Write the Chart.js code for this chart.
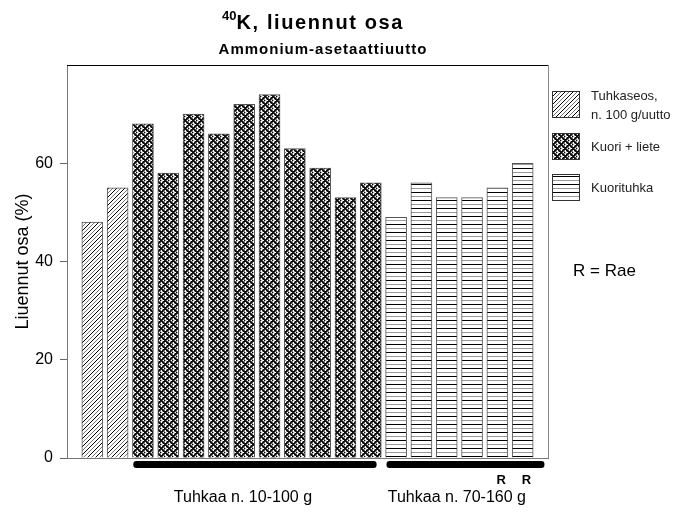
<!DOCTYPE html>
<html>
<head>
<meta charset="utf-8">
<script src="https://cdn.jsdelivr.net/npm/chart.js@4.4.1/dist/chart.umd.min.js"></script>
<style>
  body { margin: 0; background: #fff; }
  #wrap { position: relative; width: 683px; height: 512px; }
  #chart { position: absolute; left: 0; top: 0; }
  .ttl { position: absolute; left: 0; text-align: center; font-family: 'Liberation Sans', Arial, sans-serif; font-weight: bold; color: #000; white-space: nowrap; }
  #title { top: 12px; width: 626px; font-size: 20px; line-height: 20px; letter-spacing: 1.6px; }
  #title sup { font-size: 13px; position: relative; top: -9px; vertical-align: baseline; letter-spacing: 0; }
  #subtitle { top: 41px; width: 646px; font-size: 15px; line-height: 15px; letter-spacing: 1px; }
</style>
</head>
<body>
<div id="wrap">
  <canvas id="chart" width="683" height="512"></canvas>
  <div class="ttl" id="title"><sup>40</sup>K, liuennut osa</div>
  <div class="ttl" id="subtitle">Ammonium-asetaattiuutto</div>
</div>
<script>
'use strict'

// values, bars numbered 1..18 from the left
const tuhkaseos = [48, 55]
const kuoriLiete = [68, 58, 70, 66, 72, 74, 63, 59, 53, 56]
const kuorituhka = [49, 56, 53, 53, 55, 60]
const yTicks = [0, 20, 40, 60]
const rBars = [17, 18]
const groups = [
  {label: 'Tuhkaa n. 10-100 g', first: 3, last: 12},
  {label: 'Tuhkaa n. 70-160 g', first: 13, last: 18}
]
const seriesNames = ['Tuhkaseos,\nn. 100 g/uutto', 'Kuori + liete', 'Kuorituhka']

const FONT = "'Liberation Sans', Arial, sans-serif"


function makePattern (size, pixel) {
  const c = document.createElement('canvas')
  c.width = size
  c.height = size
  const g = c.getContext('2d')
  g.fillStyle = '#fff'
  g.fillRect(0, 0, size, size)
  for (let y = 0; y < size; y++) {
    for (let x = 0; x < size; x++) {
      const col = pixel(x, y)
      if (col) {
        g.fillStyle = col
        g.fillRect(x, y, 1, 1)
      }
    }
  }
  return g.createPattern(c, 'repeat')
}

const ctx = document.getElementById('chart').getContext('2d')

const diagPattern = makePattern(8, function (x, y) {
  const d = (x + y) % 8
  if (d === 0) return '#000'
  if (d === 4) return '#777'
  return null
})

const crossPattern = makePattern(8, function (x, y) {
  const d1 = (x + y) % 8
  const d2 = (x - y + 8) % 8
  if (d1 < 2 || d2 < 2) return '#111'
  if (d1 === 4 && d2 === 4) return '#000'
  if (d1 === 2 || d2 === 2) return '#555'
  if (d1 === 5 || d2 === 5) return '#999'
  return null
})

const horizPattern = makePattern(8, function (x, y) {
  if (y === 0) return '#000'
  if (y === 4) return '#999'
  return null
})

const patterns = [diagPattern, crossPattern, horizPattern]


function toPoints (values, start) {
  return values.map((v, i) => ({x: start + i, y: v}))
}


const extras = {
  id: 'extras',
  afterDraw (chart) {
    const c = chart.ctx
    const xs = chart.scales.x
    const area = chart.chartArea
    c.save()

    // frame top and right
    c.strokeStyle = '#000'
    c.lineWidth = 1
    c.beginPath()
    c.moveTo(area.left, area.top + 0.5)
    c.lineTo(area.right, area.top + 0.5)
    c.stroke()
    c.strokeStyle = '#888'
    c.beginPath()
    c.moveTo(area.right + 0.5, area.top)
    c.lineTo(area.right + 0.5, area.bottom)
    c.stroke()

    // group bars and their labels
    const labelShift = [-0.55, -0.1]
    c.fillStyle = '#000'
    c.font = '16px ' + FONT
    c.textAlign = 'center'
    c.textBaseline = 'alphabetic'
    groups.forEach((grp, i) => {
      const x0 = xs.getPixelForValue(grp.first - 0.38)
      const x1 = xs.getPixelForValue(grp.last + (i === 0 ? 0.23 : 0.86))
      const y0 = area.bottom + 3
      const h = 7
      c.beginPath()
      c.moveTo(x0 + 3, y0)
      c.lineTo(x1 - 3, y0)
      c.arcTo(x1, y0, x1, y0 + 3, 3)
      c.arcTo(x1, y0 + h, x1 - 3, y0 + h, 3)
      c.lineTo(x0 + 3, y0 + h)
      c.arcTo(x0, y0 + h, x0, y0 + h - 3, 3)
      c.arcTo(x0, y0, x0 + 3, y0, 3)
      c.fill()
      const mid = (grp.first + grp.last) / 2 + labelShift[i]
      c.fillText(grp.label, xs.getPixelForValue(mid), 502)
    })

    // R marks
    c.font = 'bold 13px ' + FONT
    rBars.forEach(b => {
      c.fillText('R', xs.getPixelForValue(b + 0.15), 484)
    })

    // legend
    const boxes = [91, 133, 174]
    c.textAlign = 'left'
    c.font = '13px ' + FONT
    seriesNames.forEach((name, i) => {
      c.fillStyle = patterns[i]
      c.fillRect(552, boxes[i], 27, 26)
      c.strokeStyle = '#333'
      c.strokeRect(552.5, boxes[i] + 0.5, 27, 26)
      c.fillStyle = '#222'
      const lines = name.split('\n')
      const top = boxes[i] + 13 - (lines.length - 1) * 9.5
      lines.forEach((ln, j) => {
        c.fillText(ln, 591, top + j * 19 + 5)
      })
    })

    c.fillStyle = '#000'
    c.font = '17px ' + FONT
    c.fillText('R = Rae', 573, 276)

    c.restore()
  }
}


const chart = new Chart(ctx, {
  type: 'bar',
  data: {
    datasets: [{
      label: 'Tuhkaseos, n. 100 g/uutto',
      data: toPoints(tuhkaseos, 1),
      backgroundColor: diagPattern
    }, {
      label: 'Kuori + liete',
      data: toPoints(kuoriLiete, 1 + tuhkaseos.length),
      backgroundColor: crossPattern
    }, {
      label: 'Kuorituhka',
      data: toPoints(kuorituhka, 1 + tuhkaseos.length + kuoriLiete.length),
      backgroundColor: horizPattern
    }]
  },
  options: {
    responsive: false,
    animation: false,
    layout: {padding: {left: 0, top: 65, right: 135, bottom: 54}},
    datasets: {
      bar: {
        grouped: false,
        barThickness: 21,
        borderColor: '#555',
        borderWidth: 1,
        borderSkipped: 'bottom'
      }
    },
    plugins: {
      legend: {display: false},
      tooltip: {enabled: false}
    },
    scales: {
      x: {
        type: 'linear',
        offset: false,
        min: 0,
        max: 19,
        ticks: {display: false},
        grid: {display: false},
        border: {color: '#777'},
        afterFit: s => { s.height = 0 }
      },
      y: {
        min: 0,
        max: 80,
        afterBuildTicks: s => { s.ticks = yTicks.map(v => ({value: v})) },
        afterFit: s => { s.width = 67 },
        ticks: {
          color: '#000',
          padding: 7,
          font: {family: FONT, size: 16}
        },
        grid: {drawOnChartArea: false, drawTicks: true, tickLength: 7, color: '#666'},
        border: {color: '#777'},
        title: {
          display: true,
          text: 'Liuennut osa (%)',
          color: '#000',
          padding: {top: 12, bottom: 0},
          font: {family: FONT, size: 18}
        }
      }
    }
  },
  plugins: [extras]
})
</script>
</body>
</html>
